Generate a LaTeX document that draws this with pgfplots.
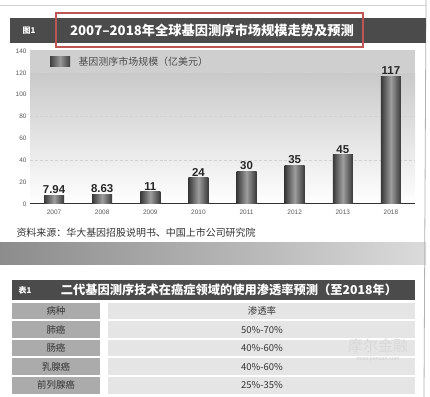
\documentclass[border=0pt]{standalone}
\usepackage{pgfplots}
\pgfplotsset{compat=1.18}
\usepackage{fontspec}
\setmainfont{Liberation Sans}
\newfontfamily\cjk{Noto Sans CJK SC}
\newfontfamily\lib{Liberation Sans}
\definecolor{hdr}{RGB}{75,75,75}
\definecolor{redbox}{RGB}{190,85,85}
\definecolor{bandmid}{RGB}{170,170,170}
\begin{document}
\begin{tikzpicture}[x=1bp,y=1bp]
\useasboundingbox (0,0) rectangle (430,397);
\fill[white] (0,0) rectangle (430,397);
\draw[gray!35] (0,392) -- (426,392);
% texture band
\path[fill=bandmid] (0bp,132bp) rectangle (426bp,154bp);
\shade[left color=black!45, right color=black!28] (0bp,132bp) rectangle (250bp,154bp);
\shade[left color=black!28, right color=black!14] (250bp,132bp) rectangle (426bp,154bp);
\draw[gray!60, line width=0.8bp] (426,397) -- (424,0);
% header bar
\fill[hdr] (10,354) rectangle (426,379);
\node[white, font=\cjk\bfseries\fontsize{8}{8}\selectfont] at (29,366.5) {图1};
\node[white, font=\cjk\bfseries\fontsize{13.3}{13.3}\selectfont] at (212,366.5) {2007–2018年全球基因测序市场规模走势及预测};
\draw[redbox, line width=1.3bp] (56,350) rectangle (363,384);
% chart background
\shade[top color=gray!42, bottom color=white] (30,193) rectangle (415,324);
\fill[gray!38] (30,324) rectangle (415,347);
\shade[left color=black!75, right color=black!75, middle color=black!40] (50,330) rectangle (70,340);
\node[anchor=west, black!70, font=\cjk\fontsize{10}{10}\selectfont] at (75,335) {基因测序市场规模（亿美元）};
\begin{axis}[
  at={(30bp,193bp)}, anchor=south west,
  scale only axis, width=385bp, height=153bp,
  xmin=-0.5, xmax=7.5, ymin=0, ymax=140,
  axis lines*=left, axis line style={-},
  y axis line style={draw=none},
  x axis line style={black!80, line width=1bp},
  major tick length=0pt,
  xtick={0,1,2,3,4,5,6,7},
  xticklabels={2007,2008,2009,2010,2011,2012,2013,2018},
  ytick={0,20,40,60,80,100,120,140},
  extra y ticks={40,80,120},
  extra y tick labels={},
  extra y tick style={grid=major, major grid style={densely dashed, gray!35, line width=0.8bp}},
  /pgf/number format/assume math mode=true,
  ticklabel style={font=\lib\fontsize{6.5}{6.5}\selectfont, black!65},
  xticklabel style={yshift=-2bp},
  clip=false,
  barstyle/.style={ybar, bar width=20bp, draw=none, left color=black!78, right color=black!78, middle color=black!38,
    nodes near coords,
    every node near coord/.append style={font=\lib\bfseries\fontsize{11.5}{11.5}\selectfont, black!85, inner sep=1.5bp}},
]
\addplot[barstyle] coordinates {(0,7.94)};
\addplot[barstyle] coordinates {(1,8.63)};
\addplot[barstyle] coordinates {(2,11)};
\addplot[barstyle] coordinates {(3,24)};
\addplot[barstyle] coordinates {(4,30)};
\addplot[barstyle] coordinates {(5,35)};
\addplot[barstyle] coordinates {(6,45)};
\addplot[barstyle] coordinates {(7,117)};
\end{axis}
% source
\node[anchor=west, black!80, font=\cjk\fontsize{10}{10}\selectfont] at (13,164) {资料来源：华大基因招股说明书、中国上市公司研究院};
% table header
\fill[hdr] (12,97) rectangle (415,117);
\node[white, font=\cjk\bfseries\fontsize{8}{8}\selectfont] at (25,107) {表1};
\node[white, font=\cjk\bfseries\fontsize{12.3}{12.3}\selectfont] at (229,107) {二代基因测序技术在癌症领域的使用渗透率预测（至2018年）};
% table rows
\foreach \i/\a/\b in {0/病种/渗透率, 1/肺癌/50\%-70\%, 2/肠癌/40\%-60\%, 3/乳腺癌/40\%-60\%, 4/前列腺癌/25\%-35\%}{
  \pgfmathsetmacro{\rt}{94-18.5*\i}
  \pgfmathsetmacro{\rb}{\rt-16.5}
  \pgfmathsetmacro{\rm}{\rt-8.25}
  \fill[gray!66] (12,\rb) rectangle (100,\rt);
  \fill[black!10] (108,\rb) rectangle (415,\rt);
  \node[black!80, font=\cjk\fontsize{9.5}{9.5}\selectfont] at (56,\rm) {\a};
  \node[black!80, font=\cjk\fontsize{9.5}{9.5}\selectfont] at (262,\rm) {\b};
}
% watermark
\node[gray!30, font=\cjk\fontsize{15}{15}\selectfont] at (378,51) {摩尔金融};
\node[gray!35, font=\lib\fontsize{5.5}{5.5}\selectfont] at (378,38) {moer.jiemian.com};
\end{tikzpicture}
\end{document}
